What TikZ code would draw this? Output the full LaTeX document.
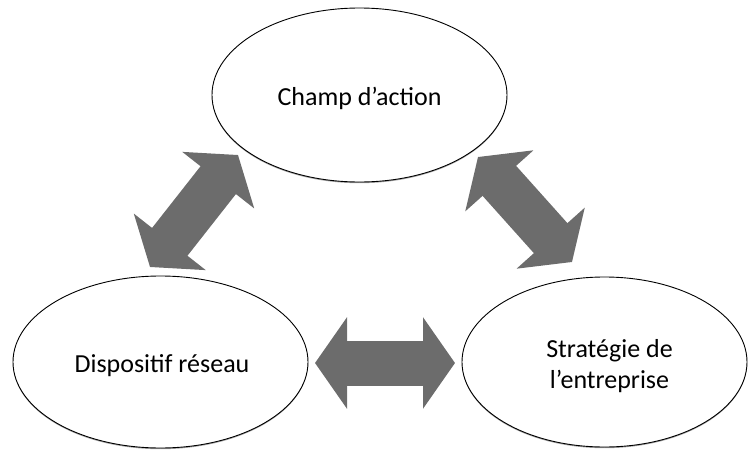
\documentclass[tikz,border=0pt]{standalone}
\usepackage{fontspec}
\setmainfont{Carlito}
\usetikzlibrary{shapes.geometric,arrows.meta,shadows}
\definecolor{arrowgray}{RGB}{108,108,108}
\tikzset{
  bubble/.style={ellipse, draw=black, line width=0.9pt, fill=white, inner sep=0pt,
    align=center, font=\fontsize{26}{31}\selectfont,
    drop shadow={shadow xshift=0pt, shadow yshift=-1.2pt, opacity=0.35, fill=black}},
  bigarrow/.style={draw=arrowgray, line width=45pt,
    {Triangle[length=32pt,width=90pt,fill=arrowgray]}-{Triangle[length=32pt,width=90pt,fill=arrowgray]}}
}
\begin{document}
\begin{tikzpicture}[x=1pt,y=-1pt]
\useasboundingbox (0,0) rectangle (748,450);
\node[bubble, minimum width=295pt, minimum height=174pt] (champ) at (359.5,95) {\raisebox{-3pt}[\height][\depth]{Champ d’action}};
\node[bubble, minimum width=295pt, minimum height=172pt] (dispo) at (160.5,362) {\raisebox{-4pt}[\height][\depth]{\hspace*{3pt}Dispositif réseau}};
\node[bubble, minimum width=285pt, minimum height=170pt] (strat) at (604.5,362) {\raisebox{-5pt}[\height][\depth]{\hspace*{10pt}\begin{tabular}{@{}c@{}}Stratégie de\\l’entreprise\end{tabular}}};
\coordinate (a1) at (150,267);
\coordinate (a2) at (238,155);
\coordinate (b1) at (478,157);
\coordinate (b2) at (572,262);
\coordinate (c1) at (315,363);
\coordinate (c2) at (455,363);
\draw[bigarrow] (a1) -- (a2);
\draw[bigarrow] (b1) -- (b2);
\draw[bigarrow] (c1) -- (c2);
\end{tikzpicture}
\end{document}
